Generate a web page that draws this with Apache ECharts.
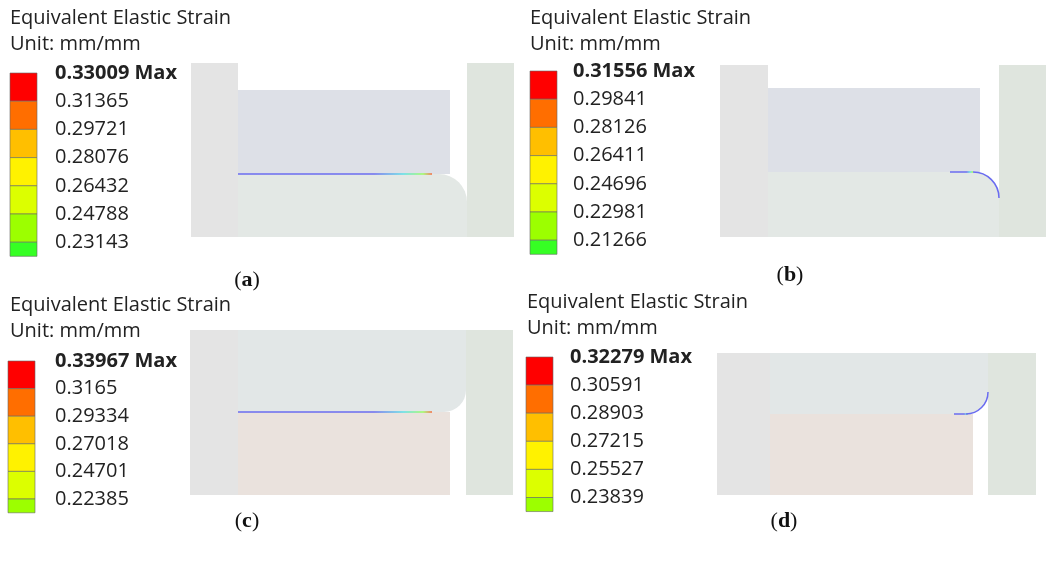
<!DOCTYPE html>
<html><head><meta charset="utf-8">
<script src="https://cdn.jsdelivr.net/npm/echarts@6/dist/echarts.min.js"></script>
<style>html,body{margin:0;background:#fff}#c{width:1054px;height:570px}</style>
</head><body><div id="c"></div>
<script>
// legend values per panel
const labelsA = ['0.33009 Max', '0.31365', '0.29721', '0.28076', '0.26432', '0.24788', '0.23143'];
const labelsB = ['0.31556 Max', '0.29841', '0.28126', '0.26411', '0.24696', '0.22981', '0.21266'];
const labelsC = ['0.33967 Max', '0.3165', '0.29334', '0.27018', '0.24701', '0.22385'];
const labelsD = ['0.32279 Max', '0.30591', '0.28903', '0.27215', '0.25527', '0.23839'];
const bandColors7 = ['#ff0000', '#ff6e00', '#ffbf00', '#fff200', '#dcff00', '#9cff00', '#36ff24'];
const bandColors6 = ['#ff0000', '#ff6e00', '#ffbf00', '#fff200', '#dcff00', '#9cff00'];
const captions = ['a', 'b', 'c', 'd'];

// panel layout: title pos, legend bar, geometry blocks
const panels = [
  {tx: 10, ty: 18, bx: 10, by: 73, bh: 28.2, lx: 55, labels: labelsA, colors: bandColors7, cap: [247, 280],
   blocks: [[191, 63, 238, 237, '#e4e4e4', 0], [238, 90, 450, 174, '#dde0e7', 0], [238, 174, 467, 237, '#e3e8e5', 28], [467, 63, 514, 237, '#dfe5de', 0]],
   contact: [238, 174, 432, 174], arc: null},
  {tx: 530, ty: 18, bx: 530, by: 71, bh: 28.2, lx: 573, labels: labelsB, colors: bandColors7, cap: [790, 275],
   blocks: [[720, 65, 768, 237, '#e4e4e4', 0], [768, 88, 980, 172, '#dde0e7', 0], [768, 172, 999, 237, '#e3e8e5', 26], [999, 65, 1046, 237, '#dfe5de', 0]],
   contact: [950, 172, 973, 172], arc: [973, 198, 26, 'tr']},
  {tx: 10, ty: 305, bx: 8, by: 361, bh: 27.6, lx: 55, labels: labelsC, colors: bandColors6, cap: [247, 521],
   blocks: [[190, 330, 238, 495, '#e4e4e4', 0], [238, 330, 466, 412, '#e2e7e7', 22], [238, 412, 450, 495, '#eae2dd', 0], [466, 330, 513, 495, '#dfe5de', 0]],
   contact: [238, 412, 432, 412], arc: null},
  {tx: 527, ty: 302, bx: 526, by: 357, bh: 28.1, lx: 570, labels: labelsD, colors: bandColors6, cap: [784, 521],
   blocks: [[717, 353, 770, 495, '#e4e4e4', 0], [770, 353, 988, 414, '#e2e7e7', 22], [770, 414, 973, 495, '#eae2dd', 0], [988, 353, 1036, 495, '#dfe5de', 0]],
   contact: [954, 414, 968, 414], arc: [966, 392, 22, 'br']}
];

const font = '"Open Sans", "Noto Sans", sans-serif';
const fs = '20px ';
const lineGrad = new echarts.graphic.LinearGradient(0, 0, 1, 0, [
  {offset: 0, color: '#6a6cf0'}, {offset: 0.7, color: '#6a6cf0'}, {offset: 0.85, color: '#5ce0e8'},
  {offset: 0.95, color: '#9cff60'}, {offset: 1, color: '#ff5a3a'}]);

function renderPanel(params, api) {
  const p = panels[params.dataIndex];
  const c = (x, y) => api.coord([x, y]);
  const kids = [];
  // texts
  let t = c(p.tx, p.ty);
  kids.push({type: 'text', style: {x: t[0], y: t[1], text: 'Equivalent Elastic Strain', font: fs + font, fill: '#222', verticalAlign: 'middle'}});
  t = c(p.tx, p.ty + 26);
  kids.push({type: 'text', style: {x: t[0], y: t[1], text: 'Unit: mm/mm', font: fs + font, fill: '#222', verticalAlign: 'middle'}});
  // legend bands
  p.colors.forEach((col, i) => {
    const a = c(p.bx, p.by + i * p.bh), b = c(p.bx + 27, p.by + (i + 1) * p.bh);
    const h = i === p.colors.length - 1 ? (b[1] - a[1]) * 0.5 : b[1] - a[1];
    kids.push({type: 'rect', shape: {x: a[0], y: a[1], width: b[0] - a[0], height: h}, style: {fill: col, stroke: '#666', lineWidth: 0.6}});
  });
  p.labels.forEach((lab, i) => {
    const a = c(p.lx, p.by + i * p.bh);
    kids.push({type: 'text', style: {x: a[0], y: a[1], text: lab, font: (i === 0 ? 'bold ' : '') + fs + font, fill: '#222', verticalAlign: 'middle'}});
  });
  // geometry
  p.blocks.forEach(bk => {
    const a = c(bk[0], bk[1]), b = c(bk[2], bk[3]);
    const r = bk[5];
    const rr = params.dataIndex < 2 ? [0, r, 0, 0] : [0, 0, r, 0];
    kids.push({type: 'rect', shape: {x: a[0], y: a[1], width: b[0] - a[0], height: b[1] - a[1], r: rr}, style: {fill: bk[4]}});
  });
  const l0 = c(p.contact[0], p.contact[1]), l1 = c(p.contact[2], p.contact[3]);
  kids.push({type: 'line', shape: {x1: l0[0], y1: l0[1], x2: l1[0], y2: l1[1]}, style: {stroke: lineGrad, lineWidth: 1.5}});
  if (p.arc) {
    const ac = c(p.arc[0], p.arc[1]);
    const top = p.arc[3] === 'tr';
    kids.push({type: 'arc', shape: {cx: ac[0], cy: ac[1], r: p.arc[2], startAngle: top ? -Math.PI / 2 : 0, endAngle: top ? 0 : Math.PI / 2},
      style: {stroke: '#6a6cf0', lineWidth: 1.5, fill: null}});
  }
  // caption
  const cp = c(p.cap[0], p.cap[1]);
  kids.push({type: 'text', style: {x: cp[0], y: cp[1], text: '({b|' + captions[params.dataIndex] + '})', rich: {b: {fontWeight: 'bold', fontSize: 22, fontFamily: '"Liberation Serif", serif'}},
    font: '22px "Liberation Serif", serif', fill: '#111', align: 'center', verticalAlign: 'middle'}});
  return {type: 'group', children: kids};
}

const chart = echarts.init(document.getElementById('c'));
chart.setOption({
  animation: false,
  grid: {left: 0, right: 0, top: 0, bottom: 0},
  xAxis: {type: 'value', min: 0, max: 1054, show: false},
  yAxis: {type: 'value', min: 0, max: 570, inverse: true, show: false},
  series: [{type: 'custom', renderItem: renderPanel, data: panels.map((p, i) => [i])}]
});
</script></body></html>
